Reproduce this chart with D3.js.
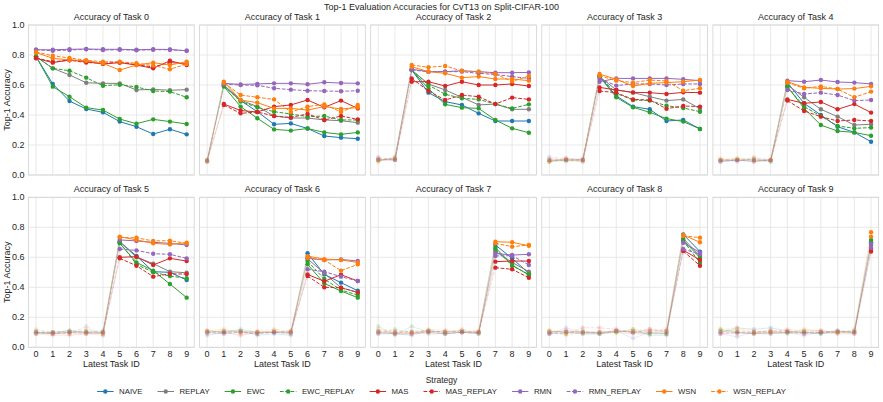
<!DOCTYPE html>
<html>
<head>
<meta charset="utf-8">
<script src="https://cdn.jsdelivr.net/npm/d3@7"></script>
<style>
  body { margin: 0; background: #fff; }
  text { font-family: "Liberation Sans", Arial, sans-serif; fill: #262626; }
</style>
</head>
<body>
<svg id="chart" width="883" height="402"></svg>
<script>
var strategies = ["NAIVE", "REPLAY", "EWC", "EWC_REPLAY", "MAS", "MAS_REPLAY", "RMN", "RMN_REPLAY", "WSN", "WSN_REPLAY"];
var colors = ["#1f77b4", "#7f7f7f", "#2ca02c", "#2ca02c", "#d62728", "#d62728", "#9467bd", "#9467bd", "#ff7f0e", "#ff7f0e"];
var dashed = strategies.map(function(s) { return s.indexOf("_REPLAY") > 0; });
var taskIds = d3.range(10);
var yTicks = [0, 0.2, 0.4, 0.6, 0.8, 1.0];

// accuracy[task][latest task id], one table per strategy
var accNAIVE = [
  [0.789,0.607,0.493,0.44,0.418,0.356,0.322,0.273,0.305,0.271],
  [0.095,0.595,0.496,0.422,0.338,0.344,0.31,0.26,0.249,0.242],
  [0.10,0.11,0.70,0.549,0.489,0.467,0.411,0.36,0.36,0.36],
  [0.09,0.10,0.11,0.656,0.527,0.456,0.438,0.36,0.367,0.307],
  [0.10,0.09,0.11,0.10,0.616,0.478,0.40,0.322,0.284,0.222],
  [0.09,0.10,0.11,0.10,0.11,0.704,0.609,0.504,0.50,0.449],
  [0.08,0.10,0.11,0.08,0.09,0.08,0.627,0.486,0.431,0.377],
  [0.10,0.09,0.08,0.11,0.10,0.11,0.10,0.682,0.593,0.493],
  [0.09,0.10,0.09,0.09,0.11,0.10,0.09,0.09,0.753,0.638],
  [0.10,0.13,0.12,0.13,0.11,0.10,0.09,0.11,0.10,0.70]
];
var accREPLAY = [
  [0.79,0.711,0.667,0.615,0.611,0.611,0.567,0.571,0.565,0.569],
  [0.09,0.60,0.50,0.456,0.393,0.38,0.38,0.367,0.362,0.349],
  [0.10,0.10,0.70,0.607,0.567,0.518,0.467,0.473,0.438,0.438],
  [0.10,0.09,0.10,0.656,0.567,0.549,0.522,0.496,0.504,0.442],
  [0.09,0.10,0.09,0.10,0.60,0.518,0.438,0.389,0.333,0.338],
  [0.10,0.09,0.10,0.10,0.10,0.704,0.60,0.558,0.504,0.497],
  [0.11,0.10,0.12,0.10,0.10,0.11,0.59,0.493,0.397,0.366],
  [0.09,0.10,0.10,0.09,0.09,0.10,0.09,0.64,0.566,0.504],
  [0.10,0.11,0.10,0.10,0.10,0.09,0.09,0.10,0.726,0.609],
  [0.11,0.10,0.09,0.10,0.10,0.11,0.11,0.10,0.10,0.695]
];
var accEWC = [
  [0.79,0.589,0.522,0.449,0.433,0.373,0.342,0.371,0.356,0.34],
  [0.10,0.59,0.456,0.378,0.304,0.296,0.31,0.284,0.271,0.284],
  [0.09,0.12,0.70,0.576,0.471,0.449,0.444,0.367,0.311,0.282],
  [0.10,0.10,0.09,0.656,0.518,0.451,0.418,0.376,0.356,0.307],
  [0.09,0.10,0.10,0.09,0.589,0.444,0.333,0.293,0.284,0.262],
  [0.10,0.10,0.11,0.10,0.09,0.693,0.566,0.511,0.422,0.331],
  [0.10,0.11,0.11,0.10,0.10,0.10,0.553,0.426,0.375,0.331],
  [0.14,0.08,0.14,0.10,0.09,0.10,0.09,0.664,0.548,0.482],
  [0.11,0.10,0.09,0.09,0.10,0.12,0.08,0.08,0.715,0.597],
  [0.12,0.10,0.09,0.10,0.09,0.10,0.09,0.10,0.11,0.716]
];
var accEWC_REPLAY = [
  [0.79,0.711,0.695,0.649,0.595,0.602,0.587,0.56,0.556,0.518],
  [0.09,0.595,0.49,0.451,0.422,0.407,0.389,0.393,0.367,0.367],
  [0.11,0.10,0.70,0.60,0.538,0.511,0.504,0.473,0.444,0.471],
  [0.09,0.10,0.10,0.656,0.544,0.50,0.496,0.462,0.447,0.422],
  [0.10,0.11,0.10,0.09,0.589,0.456,0.393,0.327,0.311,0.316],
  [0.11,0.10,0.10,0.11,0.10,0.70,0.553,0.50,0.475,0.46],
  [0.10,0.10,0.10,0.09,0.11,0.10,0.575,0.455,0.382,0.348],
  [0.10,0.12,0.10,0.11,0.10,0.11,0.10,0.655,0.544,0.486],
  [0.10,0.09,0.11,0.09,0.10,0.11,0.10,0.09,0.71,0.564],
  [0.11,0.11,0.10,0.10,0.10,0.10,0.10,0.10,0.10,0.682]
];
var accMAS = [
  [0.778,0.749,0.767,0.756,0.74,0.749,0.733,0.711,0.762,0.733],
  [0.09,0.473,0.43,0.42,0.456,0.467,0.50,0.451,0.496,0.444],
  [0.10,0.10,0.622,0.622,0.593,0.622,0.60,0.60,0.607,0.593],
  [0.09,0.11,0.10,0.584,0.567,0.551,0.549,0.54,0.551,0.549],
  [0.10,0.10,0.09,0.10,0.504,0.478,0.487,0.438,0.473,0.416],
  [0.10,0.09,0.10,0.10,0.09,0.60,0.604,0.549,0.593,0.575],
  [0.11,0.10,0.08,0.10,0.10,0.10,0.486,0.44,0.484,0.442],
  [0.09,0.09,0.09,0.10,0.09,0.10,0.10,0.571,0.575,0.575],
  [0.10,0.11,0.10,0.10,0.11,0.10,0.10,0.09,0.648,0.582],
  [0.09,0.10,0.09,0.09,0.10,0.10,0.10,0.09,0.09,0.638]
];
var accMAS_REPLAY = [
  [0.78,0.755,0.765,0.75,0.745,0.752,0.735,0.72,0.75,0.74],
  [0.10,0.467,0.411,0.42,0.393,0.384,0.407,0.367,0.393,0.371],
  [0.11,0.10,0.644,0.56,0.50,0.533,0.522,0.473,0.516,0.504],
  [0.10,0.10,0.09,0.56,0.549,0.504,0.50,0.442,0.46,0.456],
  [0.09,0.10,0.10,0.10,0.496,0.427,0.389,0.36,0.367,0.36],
  [0.09,0.10,0.09,0.09,0.10,0.593,0.544,0.471,0.49,0.488],
  [0.10,0.09,0.10,0.09,0.10,0.10,0.475,0.40,0.397,0.366],
  [0.11,0.10,0.10,0.10,0.11,0.10,0.10,0.531,0.52,0.464],
  [0.09,0.09,0.13,0.13,0.12,0.10,0.12,0.11,0.642,0.544],
  [0.10,0.09,0.10,0.11,0.11,0.09,0.10,0.11,0.10,0.655]
];
var accRMN = [
  [0.835,0.835,0.838,0.84,0.838,0.838,0.835,0.838,0.837,0.828],
  [0.09,0.611,0.604,0.607,0.611,0.611,0.605,0.618,0.613,0.611],
  [0.10,0.11,0.705,0.689,0.689,0.695,0.689,0.682,0.682,0.684],
  [0.11,0.10,0.10,0.622,0.644,0.644,0.644,0.644,0.638,0.629],
  [0.09,0.10,0.09,0.10,0.629,0.622,0.633,0.62,0.616,0.607],
  [0.10,0.09,0.10,0.09,0.10,0.716,0.709,0.70,0.693,0.682],
  [0.10,0.09,0.10,0.10,0.10,0.09,0.593,0.582,0.586,0.575],
  [0.10,0.09,0.09,0.11,0.10,0.10,0.10,0.626,0.615,0.62],
  [0.09,0.13,0.10,0.09,0.11,0.06,0.10,0.11,0.697,0.633],
  [0.09,0.07,0.10,0.09,0.10,0.08,0.10,0.11,0.09,0.689]
];
var accRMN_REPLAY = [
  [0.835,0.828,0.833,0.838,0.833,0.835,0.832,0.835,0.835,0.828],
  [0.10,0.605,0.60,0.598,0.578,0.569,0.562,0.56,0.558,0.562],
  [0.12,0.10,0.70,0.689,0.689,0.689,0.678,0.67,0.656,0.644],
  [0.12,0.11,0.10,0.64,0.596,0.607,0.607,0.60,0.607,0.607],
  [0.10,0.10,0.11,0.09,0.567,0.54,0.549,0.533,0.496,0.50],
  [0.10,0.09,0.09,0.14,0.08,0.655,0.646,0.624,0.62,0.593],
  [0.09,0.10,0.10,0.09,0.10,0.09,0.52,0.504,0.471,0.442],
  [0.10,0.10,0.11,0.11,0.09,0.10,0.09,0.609,0.611,0.549],
  [0.09,0.10,0.10,0.10,0.11,0.10,0.12,0.10,0.655,0.62],
  [0.09,0.10,0.10,0.11,0.10,0.09,0.10,0.10,0.11,0.664]
];
var accWSN = [
  [0.816,0.778,0.767,0.762,0.744,0.70,0.733,0.749,0.733,0.756],
  [0.10,0.622,0.50,0.482,0.444,0.444,0.433,0.456,0.44,0.45],
  [0.10,0.11,0.722,0.689,0.678,0.649,0.656,0.64,0.64,0.629],
  [0.09,0.10,0.10,0.673,0.638,0.593,0.611,0.616,0.622,0.633],
  [0.10,0.11,0.10,0.10,0.622,0.584,0.578,0.573,0.576,0.591],
  [0.09,0.08,0.08,0.09,0.08,0.737,0.716,0.693,0.686,0.697],
  [0.11,0.12,0.10,0.10,0.11,0.10,0.608,0.588,0.582,0.566],
  [0.11,0.10,0.09,0.12,0.11,0.11,0.10,0.704,0.70,0.677],
  [0.11,0.10,0.10,0.10,0.10,0.12,0.11,0.11,0.749,0.70],
  [0.10,0.12,0.10,0.11,0.10,0.12,0.11,0.10,0.10,0.767]
];
var accWSN_REPLAY = [
  [0.82,0.795,0.78,0.765,0.755,0.755,0.745,0.73,0.705,0.74],
  [0.09,0.615,0.533,0.518,0.504,0.42,0.456,0.471,0.42,0.467],
  [0.09,0.12,0.733,0.718,0.727,0.693,0.689,0.673,0.624,0.66],
  [0.10,0.11,0.10,0.662,0.629,0.616,0.633,0.627,0.562,0.578],
  [0.11,0.10,0.12,0.10,0.616,0.578,0.591,0.573,0.518,0.556],
  [0.12,0.10,0.11,0.12,0.10,0.733,0.73,0.709,0.711,0.693],
  [0.10,0.11,0.10,0.11,0.12,0.11,0.597,0.582,0.511,0.553],
  [0.12,0.11,0.10,0.11,0.10,0.12,0.11,0.693,0.671,0.682],
  [0.11,0.08,0.10,0.10,0.11,0.10,0.11,0.12,0.744,0.731],
  [0.12,0.13,0.11,0.10,0.12,0.11,0.11,0.10,0.12,0.738]
];

var accuracy = {
  NAIVE: accNAIVE, REPLAY: accREPLAY, EWC: accEWC, EWC_REPLAY: accEWC_REPLAY,
  MAS: accMAS, MAS_REPLAY: accMAS_REPLAY, RMN: accRMN, RMN_REPLAY: accRMN_REPLAY,
  WSN: accWSN, WSN_REPLAY: accWSN_REPLAY
};

var svg = d3.select("#chart");

var panelLeft = 28.5, panelStep = 171.1, panelW = 165.7, panelH = 150;
var rowTop = [25, 197.3];
var gridColor = "#e3e3e3", frameColor = "#d2d2d2";
var dash = "3.7,1.6";

var x = d3.scaleLinear().domain([-0.45, 9.45]).range([0, panelW]);
var y = d3.scaleLinear().domain([0, 1]).range([panelH, 0]);
var line = d3.line().x(function(d) { return x(d.step); }).y(function(d) { return y(d.v); });

svg.append("text")
  .attr("x", 441.5).attr("y", 9.5)
  .attr("text-anchor", "middle")
  .style("font-size", "9px")
  .text("Top-1 Evaluation Accuracies for CvT13 on Split-CIFAR-100");

taskIds.forEach(function(task) {
  var row = task < 5 ? 0 : 1;
  var col = task % 5;
  var g = svg.append("g")
    .attr("transform", "translate(" + (panelLeft + col * panelStep) + "," + rowTop[row] + ")");

  // grid
  g.selectAll(".vgrid").data(taskIds).enter().append("line")
    .attr("x1", function(d) { return x(d); }).attr("x2", function(d) { return x(d); })
    .attr("y1", 0).attr("y2", panelH)
    .attr("stroke", gridColor).attr("stroke-width", 0.8);
  g.selectAll(".hgrid").data(yTicks).enter().append("line")
    .attr("x1", 0).attr("x2", panelW)
    .attr("y1", function(d) { return y(d); }).attr("y2", function(d) { return y(d); })
    .attr("stroke", gridColor).attr("stroke-width", 0.8);

  g.append("rect")
    .attr("width", panelW).attr("height", panelH)
    .attr("fill", "none").attr("stroke", frameColor).attr("stroke-width", 0.8);

  g.append("text")
    .attr("x", panelW / 2).attr("y", -5)
    .attr("text-anchor", "middle")
    .style("font-size", "9px")
    .text("Accuracy of Task " + task);

  if (col == 0) {
    g.selectAll(".ytick").data(yTicks).enter().append("text")
      .attr("x", -4).attr("y", function(d) { return y(d); })
      .attr("dy", "0.35em")
      .attr("text-anchor", "end")
      .style("font-size", "9px")
      .text(d3.format(".1f"));
    g.append("text")
      .attr("transform", "translate(-18.5," + panelH / 2 + ") rotate(-90)")
      .attr("text-anchor", "middle")
      .style("font-size", "9px")
      .text("Top-1 Accuracy");
  }
  if (row == 1) {
    g.selectAll(".xtick").data(taskIds).enter().append("text")
      .attr("x", function(d) { return x(d); }).attr("y", panelH + 9.5)
      .attr("text-anchor", "middle")
      .style("font-size", "9px")
      .text(function(d) { return d; });
    g.append("text")
      .attr("x", panelW / 2).attr("y", panelH + 20)
      .attr("text-anchor", "middle")
      .style("font-size", "9px")
      .text("Latest Task ID");
  }

  // faded history before the task was trained
  strategies.forEach(function(s, i) {
    var pts = accuracy[s][task].map(function(v, k) { return {step: k, v: v}; });
    var pre = pts.slice(0, task + 1);
    if (task > 0) {
      g.append("path").datum(pre)
        .attr("d", line).attr("fill", "none")
        .attr("stroke", colors[i]).attr("stroke-width", 1).attr("stroke-opacity", 0.16)
        .attr("stroke-dasharray", dashed[i] ? dash : null);
      g.selectAll(".pre" + i).data(pts.slice(0, task)).enter().append("circle")
        .attr("cx", function(d) { return x(d.step); }).attr("cy", function(d) { return y(d.v); })
        .attr("r", 2.2).attr("fill", colors[i]).attr("fill-opacity", 0.16);
    }
  });

  strategies.forEach(function(s, i) {
    var pts = accuracy[s][task].map(function(v, k) { return {step: k, v: v}; });
    var post = pts.slice(task);
    g.append("path").datum(post)
      .attr("d", line).attr("fill", "none")
      .attr("stroke", colors[i]).attr("stroke-width", 1)
      .attr("stroke-dasharray", dashed[i] ? dash : null);
    g.selectAll(".post" + i).data(post).enter().append("circle")
      .attr("cx", function(d) { return x(d.step); }).attr("cy", function(d) { return y(d.v); })
      .attr("r", 2.2).attr("fill", colors[i]);
  });
});

// legend
svg.append("text")
  .attr("x", 441.5).attr("y", 383)
  .attr("text-anchor", "middle")
  .style("font-size", "8.5px")
  .text("Strategy");

var legend = svg.append("g");
var lx = 0;
strategies.forEach(function(s, i) {
  var item = legend.append("g").attr("transform", "translate(" + lx + ",0)");
  item.append("line")
    .attr("x1", 0).attr("x2", 16.5).attr("y1", 0).attr("y2", 0)
    .attr("stroke", colors[i]).attr("stroke-width", 1)
    .attr("stroke-dasharray", dashed[i] ? dash : null);
  item.append("circle").attr("cx", 8.25).attr("cy", 0).attr("r", 2.2).attr("fill", colors[i]);
  var t = item.append("text")
    .attr("x", 22).attr("y", 0).attr("dy", "0.35em")
    .style("font-size", "7.8px")
    .text(s);
  lx += 22 + t.node().getComputedTextLength() + 15;
});
var legendW = lx - 15;
legend.attr("transform", "translate(" + (441.5 - legendW / 2) + ",391.5)");
</script>
</body>
</html>
